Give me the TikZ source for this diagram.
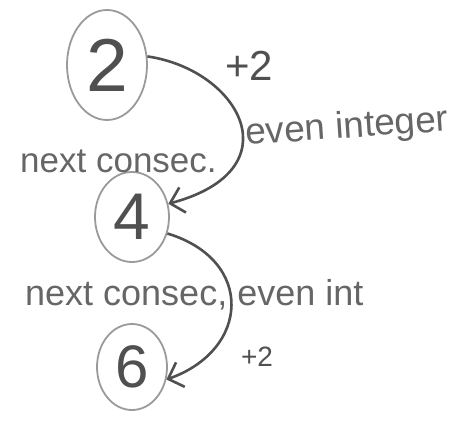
\documentclass[tikz,border=0pt]{standalone}
\usepackage{fontspec}
\setmainfont{Liberation Sans}
\usetikzlibrary{shapes.geometric,arrows.meta}
\definecolor{circ}{HTML}{9A9A9A}
\definecolor{arr}{HTML}{505050}
\definecolor{txt}{HTML}{666666}
\begin{document}
\begin{tikzpicture}[x=1pt,y=-1pt,
  numnode/.style={ellipse,draw=circ,line width=1.8pt,inner sep=0pt,text=arr},
  hop/.style={draw=arr,line width=2.6pt,-{Straight Barb[length=13pt,width=26pt,line width=2.6pt]}},
  note/.style={text=txt,inner sep=0pt,anchor=base west},
  plus/.style={text=arr,inner sep=0pt}]
\useasboundingbox (0,0) rectangle (474,423);
\node[numnode,minimum width=80pt,minimum height=110pt,font=\fontsize{75}{80}\selectfont] (n2) at (107,65) {2};
\node[numnode,minimum width=74pt,minimum height=90pt,font=\fontsize{66}{70}\selectfont] (n4) at (132,217) {4};
\node[numnode,minimum width=70pt,minimum height=86pt,font=\fontsize{60}{64}\selectfont] (n6) at (132,367) {6};
\draw[hop] (n2.12) .. controls (240,70) and (295,170) .. (n4.20);
\draw[hop] (n4.-25) .. controls (255,260) and (250,350) .. (n6.-20);
\node[plus,font=\fontsize{42}{46}\selectfont] (p1) at (249,66) {+2};
\node[plus,font=\fontsize{28}{32}\selectfont] (p2) at (257,357) {+2};
\node[note,font=\fontsize{35}{40}\selectfont] (t1) at (20,172) {next consec.};
\node[note,font=\fontsize{37}{42}\selectfont,rotate=4] (t2) at (246,145) {even integer};
\node[note,font=\fontsize{36}{40}\selectfont] (t3) at (25,305) {next consec, even int};
\end{tikzpicture}
\end{document}
